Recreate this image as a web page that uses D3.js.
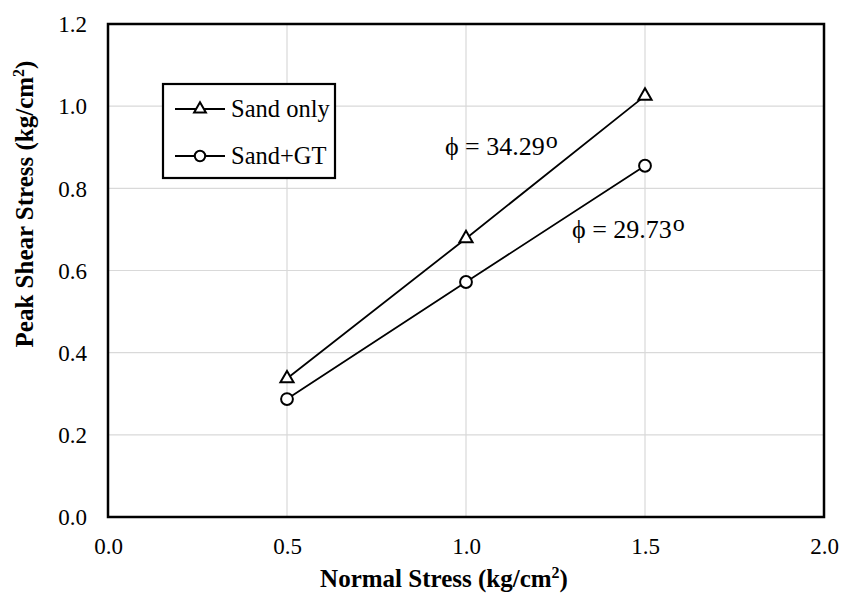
<!DOCTYPE html>
<html>
<head>
<meta charset="utf-8">
<script src="https://cdn.jsdelivr.net/npm/d3@7"></script>
<style>
  body { margin: 0; background: #fff; }
  svg text { font-family: "Liberation Serif", "Times New Roman", Tinos, Times, serif !important; }
</style>
</head>
<body>
<svg id="chart" width="843" height="599"></svg>
<script>
// Data
const normalStress = [0.5, 1.0, 1.5];
const sandOnly = [0.337, 0.678, 1.025];
const sandGT = [0.287, 0.572, 0.855];
const seriesNames = ["Sand only", "Sand+GT"];
const xTicks = [0.0, 0.5, 1.0, 1.5, 2.0];
const yTicks = [0.0, 0.2, 0.4, 0.6, 0.8, 1.0, 1.2];
const annotations = [
  { text: "\u03D5 = 34.29", sup: "o", x: 0.941, y: 0.881 },
  { text: "\u03D5 = 29.73", sup: "o", x: 1.296, y: 0.679 }
];

const svg = d3.select("#chart");
const pL = 108, pR = 824, pT = 24, pB = 517;
const xs = d3.scaleLinear().domain([0, 2]).range([pL, pR]);
const ys = d3.scaleLinear().domain([0, 1.2]).range([pB, pT]);

// gridlines
svg.append("g").selectAll("line").data(yTicks).join("line")
  .attr("x1", pL).attr("x2", pR)
  .attr("y1", d => ys(d)).attr("y2", d => ys(d))
  .attr("stroke", "#d9d9d9").attr("stroke-width", 1.2);
svg.append("g").selectAll("line").data(xTicks).join("line")
  .attr("y1", pT).attr("y2", pB)
  .attr("x1", d => xs(d)).attr("x2", d => xs(d))
  .attr("stroke", "#d9d9d9").attr("stroke-width", 1.2);

// axes (labels only)
const xAxis = d3.axisBottom(xs).tickValues(xTicks).tickFormat(d3.format(".1f")).tickSize(0).tickPadding(0);
const gx = svg.append("g").attr("transform", `translate(0,${pB})`).call(xAxis)
  .attr("font-family", null).attr("font-size", null);
gx.select(".domain").remove();
gx.selectAll("text").style("font-size", "23px")
  .attr("dy", null).attr("y", 37).attr("fill", "#000");

const yAxis = d3.axisLeft(ys).tickValues(yTicks).tickFormat(d3.format(".1f")).tickSize(0).tickPadding(21);
const gy = svg.append("g").attr("transform", `translate(${pL},0)`).call(yAxis)
  .attr("font-family", null).attr("font-size", null);
gy.select(".domain").remove();
gy.selectAll("text").style("font-size", "23px")
  .attr("dy", "0.34em").attr("fill", "#000");

// plot frame
svg.append("rect").attr("x", pL).attr("y", pT)
  .attr("width", pR - pL).attr("height", pB - pT)
  .attr("fill", "none").attr("stroke", "#000").attr("stroke-width", 2.5);

// series
const line = d3.line().x((d, i) => xs(normalStress[i])).y(d => ys(d));
const triangle = d3.symbol().type(d3.symbolTriangle).size(75);
const circle = d3.symbol().type(d3.symbolCircle).size(110);

[[sandOnly, triangle], [sandGT, circle]].forEach(([vals, sym]) => {
  svg.append("path").datum(vals).attr("d", line)
    .attr("fill", "none").attr("stroke", "#000").attr("stroke-width", 1.8);
  svg.append("g").selectAll("path").data(vals).join("path")
    .attr("d", sym)
    .attr("transform", (d, i) => `translate(${xs(normalStress[i])},${ys(d)})`)
    .attr("fill", "#fff").attr("stroke", "#000").attr("stroke-width", 2);
});

// annotations
annotations.forEach(a => {
  const t = svg.append("text").attr("x", xs(a.x)).attr("y", ys(a.y))
    .style("font-size", "26px");
  t.append("tspan").text(a.text);
  t.append("tspan").attr("dy", -7).attr("dx", 1).style("font-size", "24px").text(a.sup);
});

// legend
const lg = svg.append("g");
lg.append("rect").attr("x", 163).attr("y", 84).attr("width", 172).attr("height", 94)
  .attr("fill", "#fff").attr("stroke", "#000").attr("stroke-width", 2.2);
const lsyms = [d3.symbol().type(d3.symbolTriangle).size(60), d3.symbol().type(d3.symbolCircle).size(85)];
seriesNames.forEach((name, i) => {
  const ly = 109 + i * 47;
  lg.append("line").attr("x1", 175).attr("x2", 225).attr("y1", ly).attr("y2", ly)
    .attr("stroke", "#000").attr("stroke-width", 1.8);
  lg.append("path").attr("d", lsyms[i]).attr("transform", `translate(200,${ly})`)
    .attr("fill", "#fff").attr("stroke", "#000").attr("stroke-width", 2);
  lg.append("text").attr("x", 231).attr("y", ly + 8)
    .style("font-size", "24.5px").text(name);
});

// axis titles
const xt = svg.append("text").attr("x", 444).attr("y", 587).attr("text-anchor", "middle")
  .style("font-size", "25px").style("font-weight", "bold");
xt.append("tspan").text("Normal Stress (kg/cm");
xt.append("tspan").attr("dy", -9).style("font-size", "16px").text("2");
xt.append("tspan").attr("dy", 9).text(")");

const yt = svg.append("text").attr("transform", "translate(33,204) rotate(-90)").attr("text-anchor", "middle")
  .style("font-size", "25px").style("font-weight", "bold");
yt.append("tspan").text("Peak Shear Stress (kg/cm");
yt.append("tspan").attr("dy", -9).style("font-size", "16px").text("2");
yt.append("tspan").attr("dy", 9).text(")");
</script>
</body>
</html>
